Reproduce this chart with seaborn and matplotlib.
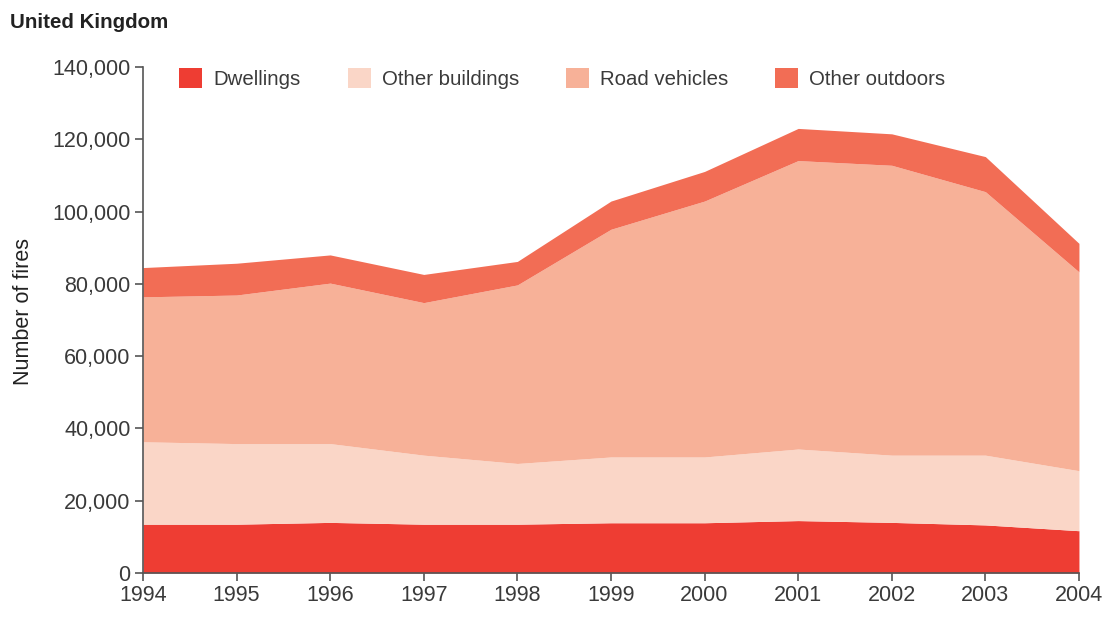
import matplotlib
matplotlib.use("Agg")
import matplotlib.pyplot as plt
import matplotlib.ticker as mticker
from matplotlib.patches import Patch
import seaborn as sns

# Fires by location, United Kingdom (thousands)
years = [1994, 1995, 1996, 1997, 1998, 1999, 2000, 2001, 2002, 2003, 2004]
dwellings = [13.5, 13.5, 14.0, 13.5, 13.5, 13.9, 13.9, 14.5, 14.0, 13.3, 11.7]
other_buildings = [22.8, 22.3, 21.8, 19.1, 16.8, 18.2, 18.2, 19.8, 18.6, 19.3, 16.6]
road_vehicles = [40.1, 41.1, 44.4, 42.2, 49.4, 63.0, 70.8, 79.8, 80.2, 72.9, 55.0]
other_outdoors = [8.1, 8.8, 7.8, 7.8, 6.5, 7.8, 8.2, 8.9, 8.7, 9.7, 7.9]

labels = ["Dwellings", "Other buildings", "Road vehicles", "Other outdoors"]
colors = ["#ee3d33", "#fad6c7", "#f7b198", "#f26d55"]

sns.set_theme(style="ticks")
plt.rcParams["font.family"] = ["Liberation Sans", "DejaVu Sans"]

fig = plt.figure(figsize=(11.03, 6.39), dpi=100)
ax = fig.add_axes([0.1296, 0.1033, 0.8486, 0.7919])

series = [[v * 1000 for v in s] for s in (dwellings, other_buildings, road_vehicles, other_outdoors)]
ax.stackplot(years, *series, colors=colors, linewidth=0)

ax.set_xlim(1994, 2004)
ax.set_ylim(0, 140000)
ax.set_xticks(years)
ax.set_yticks(range(0, 140001, 20000))
ax.yaxis.set_major_formatter(mticker.FuncFormatter(lambda v, p: f"{int(v):,}"))

sns.despine(ax=ax)
for side in ("left", "bottom"):
    ax.spines[side].set_color("#555555")
    ax.spines[side].set_linewidth(1.2)
ax.tick_params(axis="both", direction="out", length=6, width=1.2, color="#555555",
               labelsize=15.5, labelcolor="#3a3a3a", pad=3)

fig.text(0.021, 0.513, "Number of fires", fontsize=15.5, color="#222222",
         rotation=90, va="center", ha="center")

fig.text(0.009, 0.965, "United Kingdom", fontsize=14.8, fontweight="bold",
         color="#222222", va="center", ha="left")

handles = [Patch(facecolor=c, edgecolor="none") for c in colors]
fig.legend(handles, labels, loc="center left", bbox_to_anchor=(0.146, 0.877),
           ncol=4, frameon=False, fontsize=14.7, handlelength=1.13, handleheight=1.13,
           handletextpad=0.54, columnspacing=2.3, labelcolor="#3a3a3a")

fig.savefig("out.png", dpi=100)
